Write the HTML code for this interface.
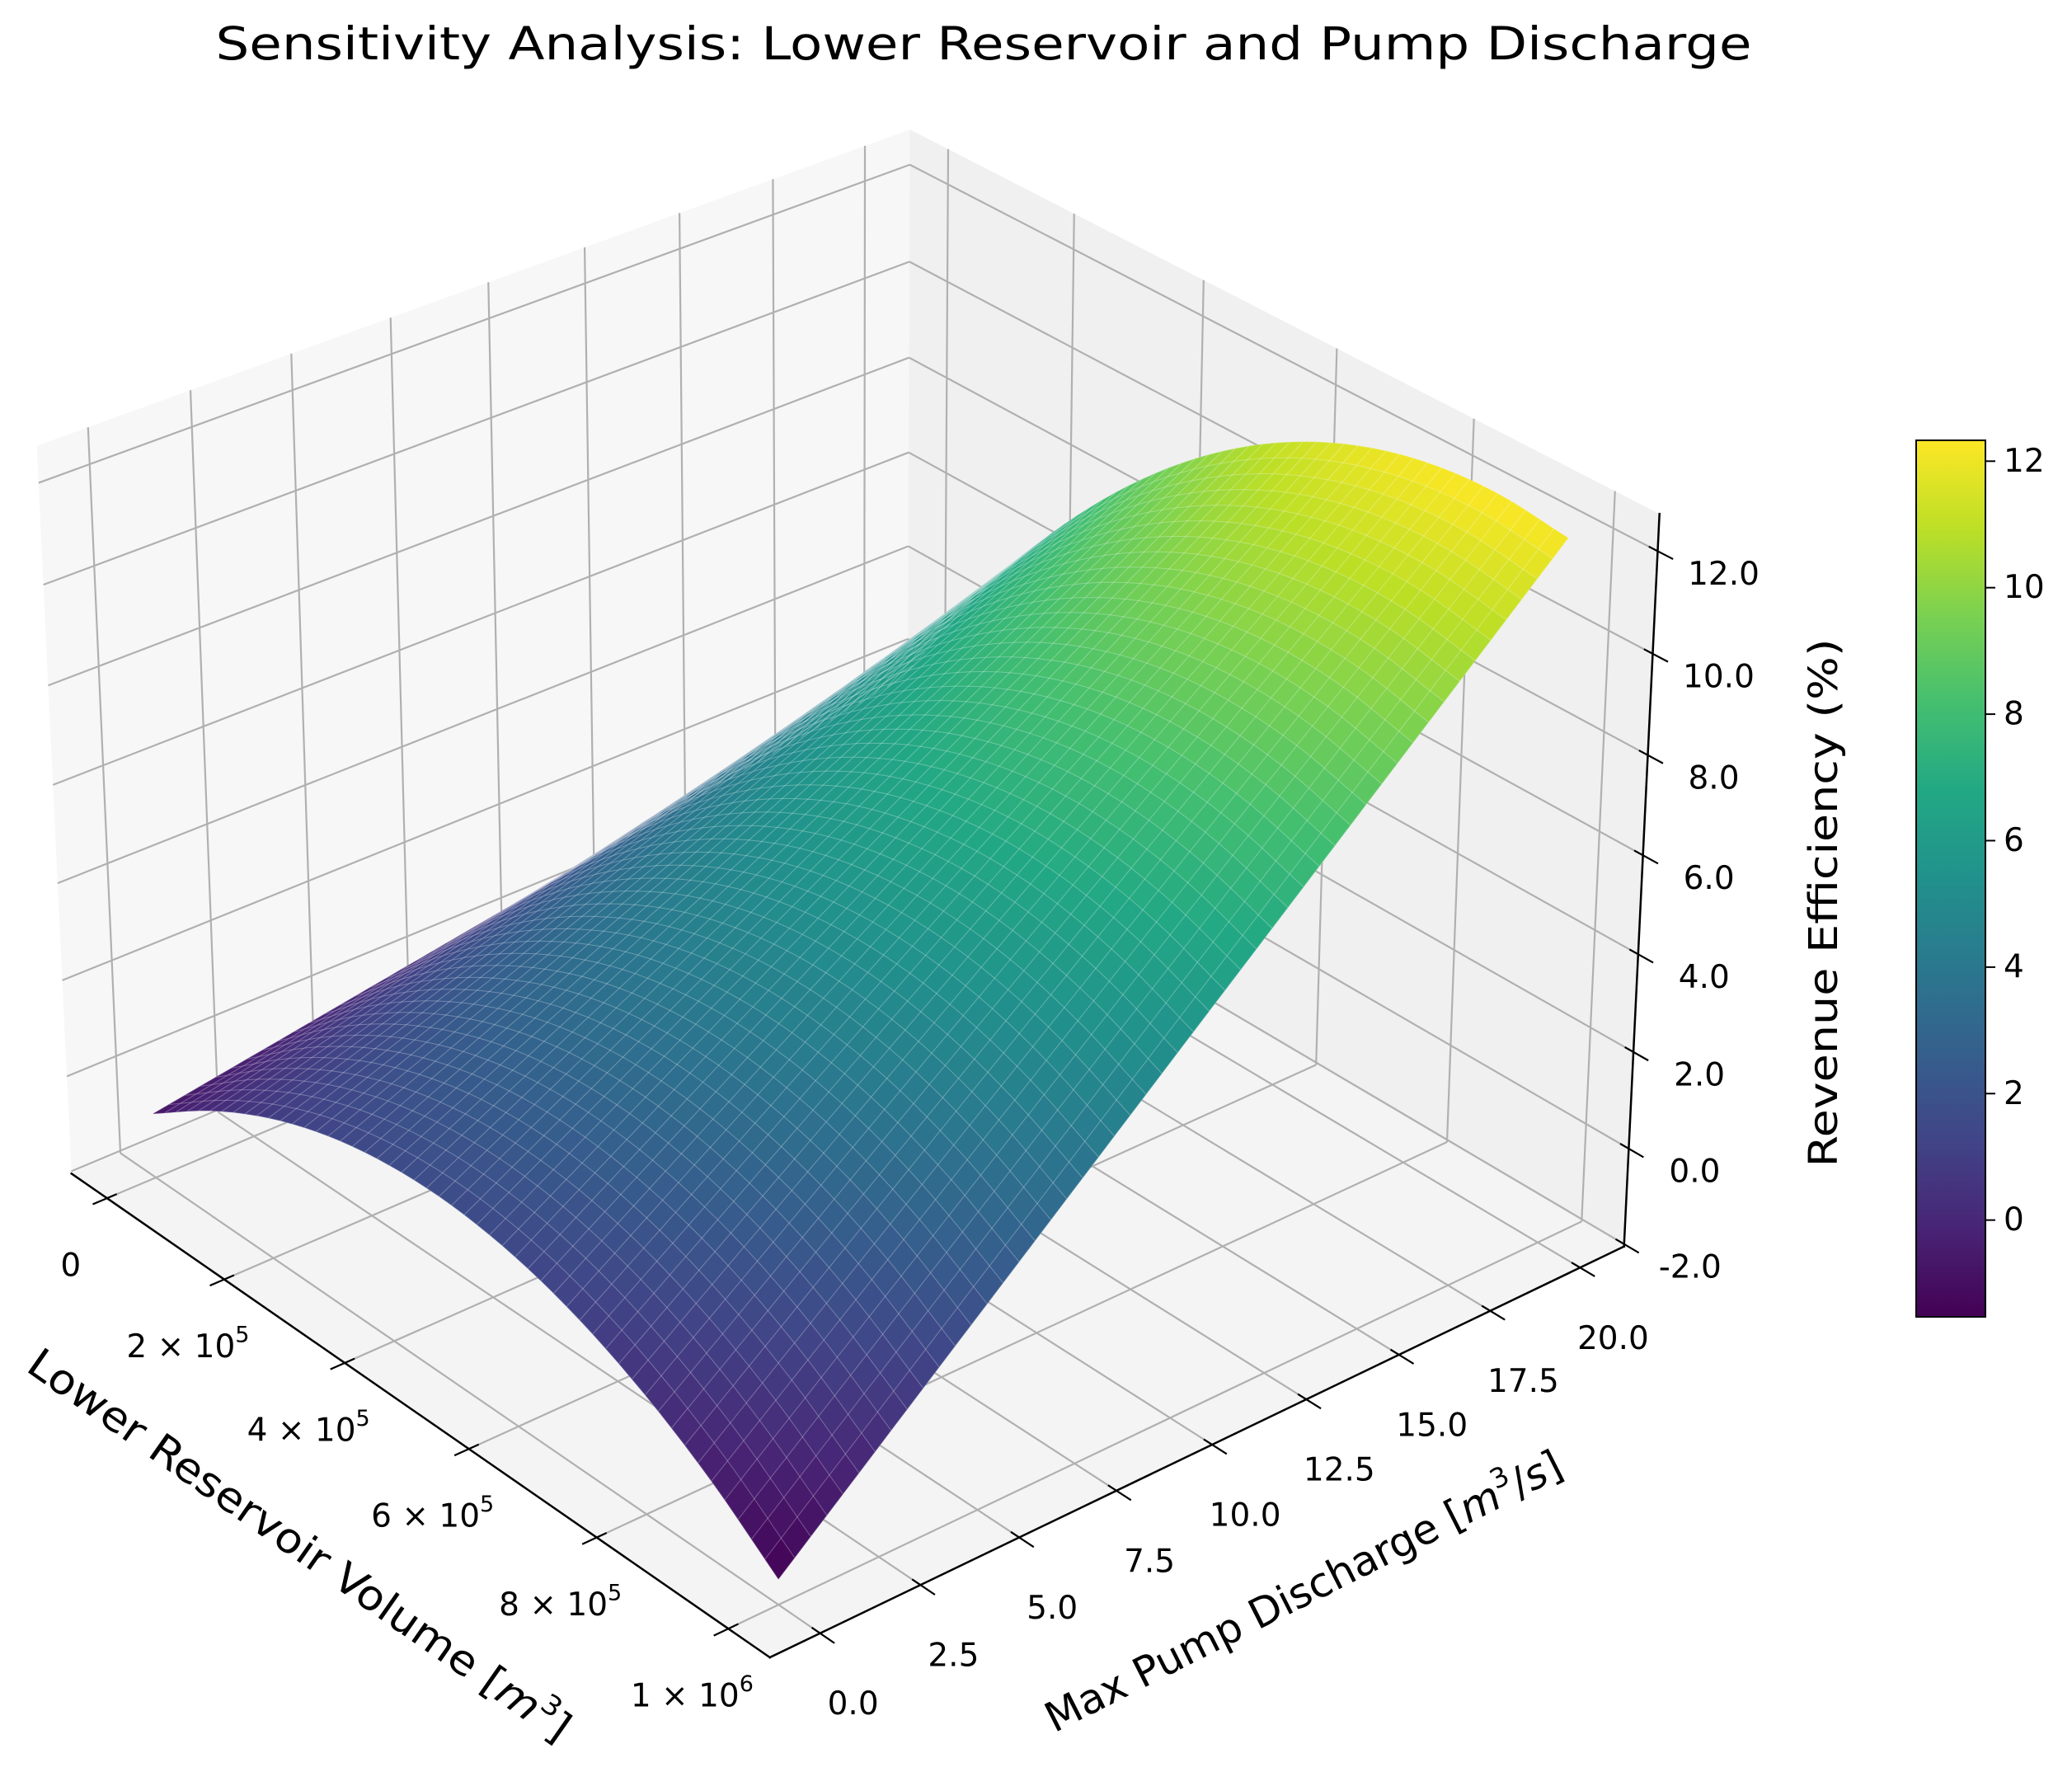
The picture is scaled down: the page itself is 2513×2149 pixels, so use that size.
<!DOCTYPE html>
<html><head><meta charset="utf-8"><title>Sensitivity Analysis</title>
<style>html,body{margin:0;padding:0;background:#fff;}svg{display:block;font-family:"DejaVu Sans","Liberation Sans",sans-serif;}</style>
</head><body>
<svg id="chart" xmlns="http://www.w3.org/2000/svg" width="2513" height="2149" viewBox="0 0 2513 2149">
<rect width="2513" height="2149" fill="#fff"/>
<text x="1193" y="72" font-size="55" text-anchor="middle" textLength="1863" lengthAdjust="spacingAndGlyphs">Sensitivity Analysis: Lower Reservoir and Pump Discharge</text>
<g id="panes"></g>
<g id="grid"></g>
<g id="axes"></g>
<g id="surface"></g>
<g id="labels"></g>
<text transform="translate(363,1874) rotate(35)" font-size="50" text-anchor="middle" dominant-baseline="central" textLength="790" lengthAdjust="spacingAndGlyphs">Lower Reservoir Volume [<tspan font-style="italic">m</tspan><tspan font-size="33" dy="-17">3</tspan><tspan dy="17">]</tspan></text>
<text transform="translate(1581,1930) rotate(-26.8)" font-size="50" text-anchor="middle" dominant-baseline="central">Max Pump Discharge [<tspan font-style="italic">m</tspan><tspan font-size="33" dy="-17">3</tspan><tspan dy="17">/</tspan><tspan font-style="italic">s</tspan>]</text>
<text transform="translate(2212,1095) rotate(-90)" font-size="48" text-anchor="middle" dominant-baseline="central" textLength="641" lengthAdjust="spacingAndGlyphs">Revenue Efficiency (%)</text>
<defs><linearGradient id="vir" x1="0" y1="1" x2="0" y2="0"></linearGradient></defs>
<g id="cbar"></g>
</svg>
<script>
// ---- data ----
const volumes = [0,100000,200000,300000,400000,500000,600000,700000,800000,900000,1000000];
const discharges = [0,5,10,15,20];
const effAtQ0  = [-0.70,0.19,0.87,1.33,1.57,1.60,1.41,1.00,0.37,-0.47,-1.53];
const effAtQ5  = [-0.03,1.19,2.18,2.94,3.48,3.78,3.86,3.71,3.34,2.73,1.90];
const effAtQ10 = [0.64,2.18,3.49,4.55,5.38,5.97,6.31,6.43,6.30,5.93,5.33];
const effAtQ15 = [1.31,3.18,4.79,6.16,7.28,8.15,8.77,9.14,9.26,9.13,8.75];
const effAtQ20 = [1.98,4.17,6.10,7.77,9.18,10.33,11.22,11.85,12.22,12.33,12.18];
const xTicks = [0,200000,400000,600000,800000,1000000];
const xTickLabels = [["0",""],["2 \u00d7 10","5"],["4 \u00d7 10","5"],["6 \u00d7 10","5"],["8 \u00d7 10","5"],["1 \u00d7 10","6"]];
const yTicks = [0,2.5,5,7.5,10,12.5,15,17.5,20];
const yTickLabels = ["0.0","2.5","5.0","7.5","10.0","12.5","15.0","17.5","20.0"];
const zTicks = [-2,0,2,4,6,8,10,12];
const zTickLabels = ["-2.0","0.0","2.0","4.0","6.0","8.0","10.0","12.0"];
const cbarTicks = [0,2,4,6,8,10,12];
const cbarTickLabels = ["0","2","4","6","8","10","12"];
const zRows = [effAtQ0,effAtQ5,effAtQ10,effAtQ15,effAtQ20];

const NS="http://www.w3.org/2000/svg";
function mk(tag,attrs,parent){const e=document.createElementNS(NS,tag);for(const k in attrs)e.setAttribute(k,attrs[k]);parent.appendChild(e);return e;}

// ---- projection fitted to box corners ----
const corr=[[0,0,0,87,1424],[1,0,0,933,2010],[1,1,0,1970,1511],[1,1,1,2013,624],[0,0,1,45,540],[0,1,1,1103,157]];
const A=[],b=[];
corr.forEach(c=>{const[X,Y,Z,x,y]=c;
 A.push([X,Y,Z,1,0,0,0,0,-x*X,-x*Y,-x*Z]);b.push(x);
 A.push([0,0,0,0,X,Y,Z,1,-y*X,-y*Y,-y*Z]);b.push(y);});
const n=11,M=[];for(let i=0;i<n;i++){M.push([]);for(let j=0;j<=n;j++){let s=0;for(let r=0;r<A.length;r++)s+=A[r][i]*(j<n?A[r][j]:b[r]);M[i].push(s);}}
for(let i=0;i<n;i++){let p=i;for(let r=i+1;r<n;r++)if(Math.abs(M[r][i])>Math.abs(M[p][i]))p=r;[M[i],M[p]]=[M[p],M[i]];
 for(let r=0;r<n;r++){if(r===i)continue;const f=M[r][i]/M[i][i];for(let c=i;c<=n;c++)M[r][c]-=f*M[i][c];}}
const P=M.map((row,i)=>row[n]/row[i]);
function proj(u,v,w){const d=P[8]*u+P[9]*v+P[10]*w+1;return[(P[0]*u+P[1]*v+P[2]*w+P[3])/d,(P[4]*u+P[5]*v+P[6]*w+P[7])/d,d];}
const mg=0.055,zlo=-2.05,zhi=12.72;
const ux=x=>mg+(1-2*mg)*x/1e6, vy=y=>mg+(1-2*mg)*y/20, wz=z=>(z-zlo)/(zhi-zlo);
const pt=(u,v,w)=>{const p=proj(u,v,w);return p[0].toFixed(1)+","+p[1].toFixed(1);};

// panes
const panes=document.getElementById('panes');
[[[0,0,0],[0,1,0],[0,1,1],[0,0,1],'#f7f7f7','left-pane'],[[0,1,0],[1,1,0],[1,1,1],[0,1,1],'#f0f0f0','back-pane'],[[0,0,0],[1,0,0],[1,1,0],[0,1,0],'#f4f4f4','floor-pane']].forEach(q=>{
 const e=mk('polygon',{points:q.slice(0,4).map(c=>pt(...c)).join(' '),fill:q[4]},panes);
 
 });
// grid
const grid=document.getElementById('grid');
function gl(a,c,name){const p=proj(...a),q=proj(...c);const e=mk('line',{x1:p[0],y1:p[1],x2:q[0],y2:q[1],stroke:'#b0b0b0','stroke-width':2.2},grid);
 
 }
xTicks.forEach(x=>{const u=ux(x);gl([u,0,0],[u,1,0],'floor-grid-x');gl([u,1,0],[u,1,1],'back-grid-x');});
yTicks.forEach(y=>{const v=vy(y);gl([0,v,0],[1,v,0],'floor-grid-y');gl([0,v,0],[0,v,1],'left-grid-y');});
zTicks.forEach(z=>{const w=wz(z);gl([0,0,w],[0,1,w],'left-grid-z');gl([0,1,w],[1,1,w],'back-grid-z');});
// axes
const axes=document.getElementById('axes');
function al(a,c,name,sw){const p=proj(...a),q=proj(...c);const e=mk('line',{x1:p[0],y1:p[1],x2:q[0],y2:q[1],stroke:'#000','stroke-width':sw,'stroke-linecap':'square'},axes);
 
 }
al([0,0,0],[1,0,0],'x-axis-line',2.5);al([1,0,0],[1,1,0],'y-axis-line',2.5);al([1,1,0],[1,1,1],'z-axis-line',2.5);
xTicks.forEach(x=>al([ux(x),-0.015,0],[ux(x),0.01,0],'x-tick',2.2));
yTicks.forEach(y=>al([0.99,vy(y),0],[1.018,vy(y),0],'y-tick',2.2));
zTicks.forEach(z=>al([0.99,1,wz(z)],[1.018,1,wz(z)],'z-tick',2.2));
// labels
const labels=document.getElementById('labels');
xTicks.forEach((x,i)=>{const p=proj(ux(x),0,0);const t=mk('text',{x:p[0]-44,y:p[1]+82,'font-size':39,'text-anchor':'middle','dominant-baseline':'central'},labels);
 
 
 t.appendChild(document.createTextNode(xTickLabels[i][0]));
 if(xTickLabels[i][1]){const s=mk('tspan',{'font-size':27,dy:-15},t);s.textContent=xTickLabels[i][1];}});
yTicks.forEach((y,i)=>{const p=proj(1,vy(y),0);const t=mk('text',{x:p[0]+40,y:p[1]+86,'font-size':39,'text-anchor':'middle','dominant-baseline':'central'},labels);
 
 
 t.textContent=yTickLabels[i];});
zTicks.forEach((z,i)=>{const p=proj(1,1,wz(z));const t=mk('text',{x:p[0]+80,y:p[1]+28,'font-size':39,'text-anchor':'middle','dominant-baseline':'central'},labels);
 
 
 t.textContent=zTickLabels[i];});

// viridis
const vir=[[68,1,84],[72,36,117],[65,68,135],[53,95,141],[42,120,142],[33,145,140],[34,168,132],[68,191,112],[122,209,81],[189,223,38],[253,231,37]];
function cmap(t){t=Math.max(0,Math.min(1,t))*10;const i=Math.min(9,Math.floor(t)),f=t-i;const a=vir[i],c=vir[i+1];
 return 'rgb('+[0,1,2].map(k=>Math.round(a[k]+(c[k]-a[k])*f)).join(',')+')';}

// surface
function zAt(xn,yn){
 const fy=yn*(zRows.length-1),j=Math.min(zRows.length-2,Math.floor(fy)),ty=fy-j;
 function rowVal(r){const fx=xn*(r.length-1),i=Math.min(r.length-2,Math.floor(fx)),t=fx-i;
  const p0=r[Math.max(0,i-1)],p1=r[i],p2=r[i+1],p3=r[Math.min(r.length-1,i+2)];
  const q0=i-1<0?2*p1-p2:p0, q3=i+2>r.length-1?2*p2-p1:p3;
  return 0.5*((2*p1)+(-q0+p2)*t+(2*q0-5*p1+4*p2-q3)*t*t+(-q0+3*p1-3*p2+q3)*t*t*t);}
 return rowVal(zRows[j])*(1-ty)+rowVal(zRows[j+1])*ty;}
let vmin=Infinity,vmax=-Infinity;zRows.forEach(r=>r.forEach(v=>{vmin=Math.min(vmin,v);vmax=Math.max(vmax,v);}));
const N=50,V=[];
for(let j=0;j<=N;j++){V.push([]);for(let i=0;i<=N;i++){const xv=volumes[volumes.length-1]*i/N,yv=discharges[discharges.length-1]*j/N;const z=zAt(i/N,j/N);V[j].push({z,p:proj(ux(xv),vy(yv),wz(z))});}}
const farD=proj(0,1,0)[2],nearD=proj(1,0,0)[2],sgn=farD>nearD?1:-1;
const cells=[];
for(let j=0;j<N;j++)for(let i=0;i<N;i++){const c=[V[j][i],V[j][i+1],V[j+1][i+1],V[j+1][i]];
 cells.push({c,d:sgn*(c[0].p[2]+c[1].p[2]+c[2].p[2]+c[3].p[2]),z:(c[0].z+c[1].z+c[2].z+c[3].z)/4});}
cells.sort((a,b)=>b.d-a.d);
const surf=document.getElementById('surface');
cells.forEach(cl=>{const col=cmap((cl.z-vmin)/(vmax-vmin));
 const e=mk('polygon',{points:cl.c.map(q=>q.p[0].toFixed(1)+','+q.p[1].toFixed(1)).join(' '),fill:col,stroke:col,'stroke-width':0.6},surf);
 
 });
cells.forEach(cl=>{const e=mk('polygon',{points:cl.c.map(q=>q.p[0].toFixed(1)+','+q.p[1].toFixed(1)).join(' '),fill:'none',stroke:'rgba(255,255,255,0.16)','stroke-width':1},surf);
 
 });

// colorbar
const grad=document.getElementById('vir');
vir.forEach((c,i)=>mk('stop',{offset:(i*10)+'%','stop-color':'rgb('+c.join(',')+')'},grad));
const cb=document.getElementById('cbar');const cx=2324,cy=534,cw=84,chh=1063;
const r1=mk('rect',{x:cx,y:cy,width:cw,height:chh,fill:'url(#vir)',stroke:'#000','stroke-width':2},cb);


cbarTicks.forEach((v,i)=>{const y=cy+chh-(v-vmin)/(vmax-vmin)*chh;
 const l=mk('line',{x1:cx+cw,y1:y,x2:cx+cw+12,y2:y,stroke:'#000','stroke-width':2},cb);
 
 
 const t=mk('text',{x:cx+cw+22,y:y,'font-size':39,'dominant-baseline':'central'},cb);
 
 
 t.textContent=cbarTickLabels[i];});
</script>
</body></html>
